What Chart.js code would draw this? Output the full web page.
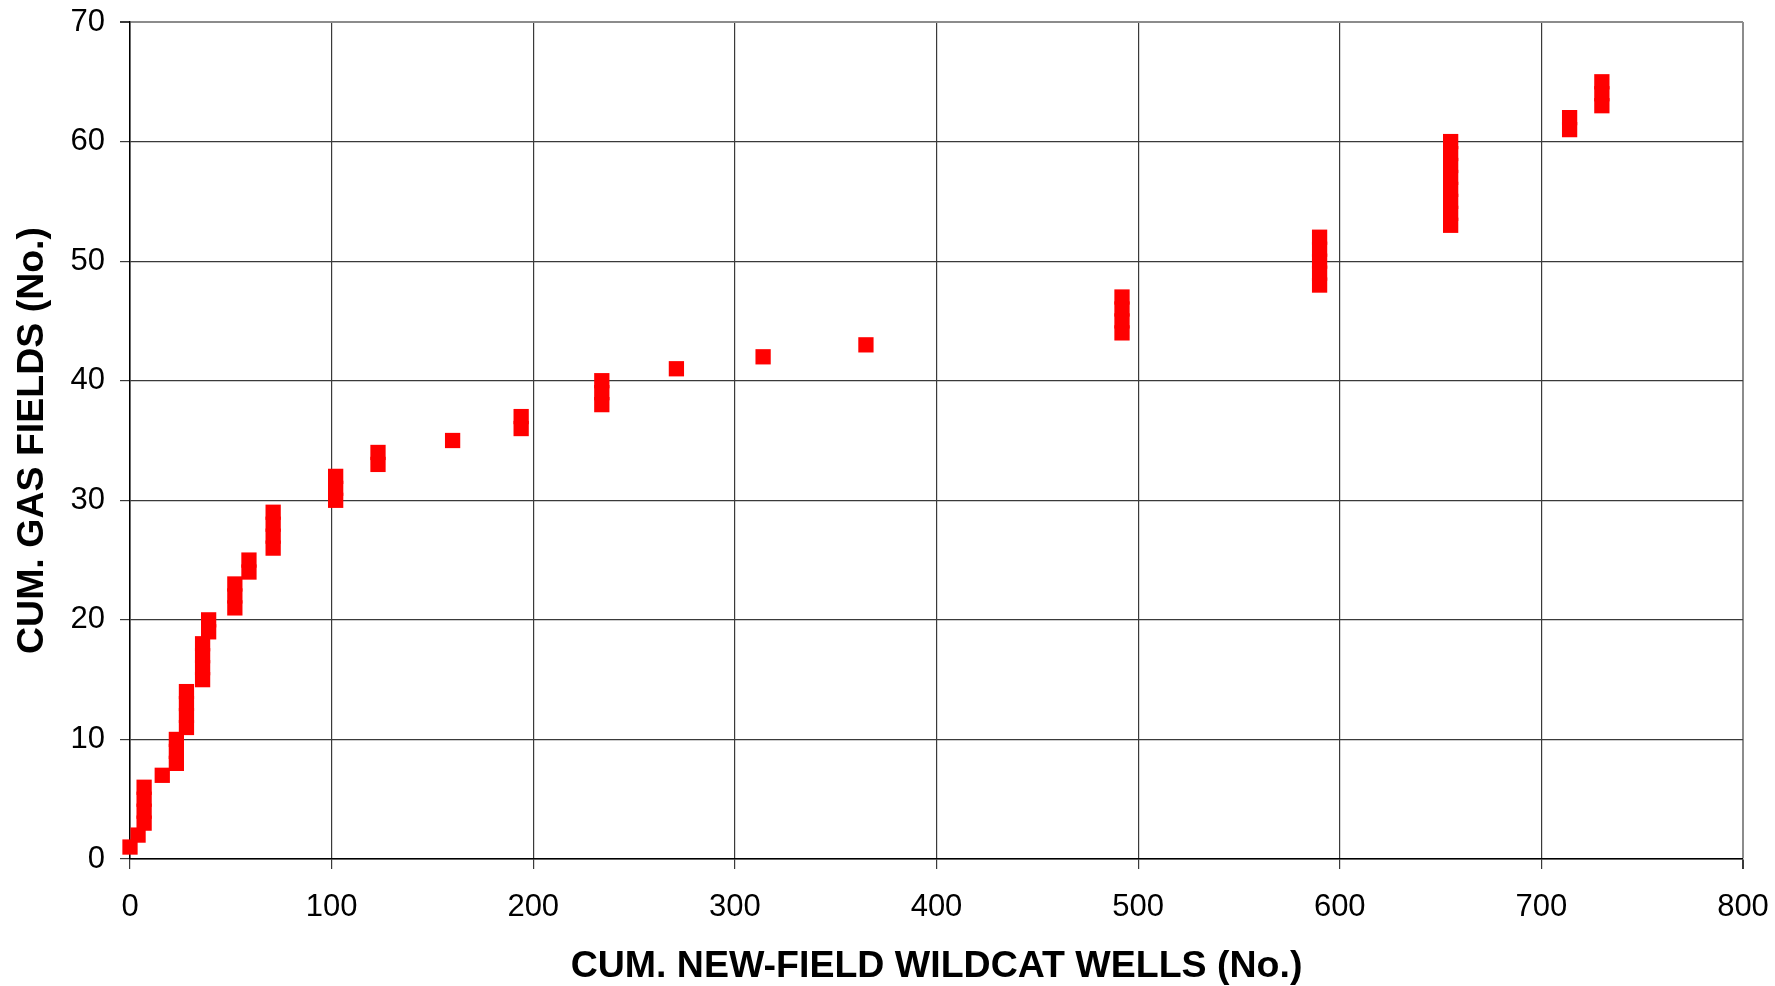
<!DOCTYPE html>
<html>
<head>
<meta charset="utf-8">
<script src="https://cdn.jsdelivr.net/npm/chart.js@4"></script>
<style>
  html, body { margin: 0; padding: 0; background: #fff; }
  #wrap { width: 1775px; height: 986px; }
</style>
</head>
<body>
<div id="wrap"><canvas id="myChart" width="1775" height="986"></canvas></div>
<script>
// cumulative new-field wildcat wells at each gas field discovery
const wells = [
  0, 4, 7, 7, 7, 7, 16, 23, 23, 23,
  28, 28, 28, 28, 36, 36, 36, 36, 39, 39,
  52, 52, 52, 59, 59, 71, 71, 71, 71, 102,
  102, 102, 123, 123, 160, 194, 194, 234, 234, 234,
  271, 314, 365, 492, 492, 492, 492, 590, 590, 590,
  590, 590, 655, 655, 655, 655, 655, 655, 655, 655,
  714, 714, 730, 730, 730
];
// cumulative gas fields (No.)
const fields = [
  1, 2, 3, 4, 5, 6, 7, 8, 9, 10,
  11, 12, 13, 14, 15, 16, 17, 18, 19, 20,
  21, 22, 23, 24, 25, 26, 27, 28, 29, 30,
  31, 32, 33, 34, 35, 36, 37, 38, 39, 40,
  41, 42, 43, 44, 45, 46, 47, 48, 49, 50,
  51, 52, 53, 54, 55, 56, 57, 58, 59, 60,
  61, 62, 63, 64, 65
];
const xTicks = [0, 100, 200, 300, 400, 500, 600, 700, 800];
const yTicks = [0, 10, 20, 30, 40, 50, 60, 70];

const points = wells.map((w, i) => ({ x: w, y: fields[i] }));

const fontFamily = "'Liberation Sans', Arial, sans-serif";

const gridColor = (ctx, max) => (ctx.tick && ctx.tick.value === max ? "#8c8c8c" : "#3a3a3a");
const gridWidth = (ctx, max) => (ctx.tick && ctx.tick.value === max ? 2 : 1.2);

const ctx = document.getElementById("myChart");
const myChart = new Chart(ctx, {
  type: "scatter",
  data: {
    datasets: [
      {
        label: "Gas fields",
        data: points,
        clip: false,
        pointStyle: "rect",
        pointRadius: 10.8,
        pointBackgroundColor: "#ff0000",
        pointBorderColor: "#ff0000",
        pointBorderWidth: 0,
      },
    ],
  },
  options: {
    responsive: false,
    devicePixelRatio: 1,
    animation: false,
    events: [],
    layout: { padding: { top: 22, right: 32, left: 0, bottom: 0 } },
    plugins: {
      legend: { display: false },
      tooltip: { enabled: false },
    },
    scales: {
      x: {
        type: "linear",
        min: 0,
        max: 800,
        afterBuildTicks: (scale) => {
          scale.ticks = xTicks.map((v) => ({ value: v }));
        },
        afterFit: (scale) => {
          scale.height = 127;
          scale.paddingLeft = 0;
          scale.paddingRight = 0;
        },
        ticks: {
          color: "#000",
          padding: 20,
          font: { family: fontFamily, size: 31 },
        },
        grid: {
          color: (c) => gridColor(c, 800),
          lineWidth: (c) => gridWidth(c, 800),
          tickLength: 10,
          tickColor: "#3a3a3a",
        },
        border: { color: "#000", width: 1.5 },
        title: {
          display: true,
          text: "CUM. NEW-FIELD WILDCAT WELLS (No.)",
          color: "#000",
          padding: { top: 0, bottom: -3 },
          font: { family: fontFamily, size: 37.5, weight: "bold" },
        },
      },
      y: {
        type: "linear",
        min: 0,
        max: 70,
        afterBuildTicks: (scale) => {
          scale.ticks = yTicks.map((v) => ({ value: v }));
        },
        afterFit: (scale) => {
          scale.width = 130;
          scale.paddingTop = 0;
          scale.paddingBottom = 0;
        },
        ticks: {
          color: "#000",
          padding: 15,
          font: { family: fontFamily, size: 31 },
        },
        grid: {
          color: (c) => gridColor(c, 70),
          lineWidth: (c) => gridWidth(c, 70),
          tickLength: 10,
          tickColor: "#3a3a3a",
        },
        border: { color: "#000", width: 1.5 },
        title: {
          display: true,
          text: "CUM. GAS FIELDS (No.)",
          color: "#000",
          padding: { top: 10, bottom: 0 },
          font: { family: fontFamily, size: 37.5, weight: "bold" },
        },
      },
    },
  },
});
</script>
</body>
</html>
